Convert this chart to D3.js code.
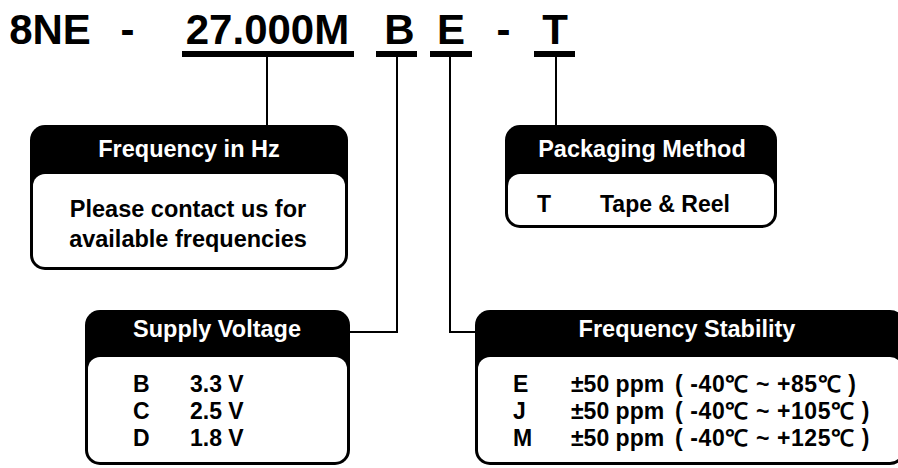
<!DOCTYPE html>
<html>
<head>
<meta charset="utf-8">
<script src="https://cdn.jsdelivr.net/npm/d3@7"></script>
<style>
  body { margin: 0; background: #fff; }
  text { font-family: "Liberation Sans", Arial, sans-serif; font-weight: bold; }
</style>
</head>
<body>
<div id="chart"></div>
<script>
// part number pieces
var codeParts = ["8NE", "-", "27.000M", "B", "E", "-", "T"];
var codeCenters = [50, 127.5, 267.5, 399.5, 451, 503.5, 555];

var freqTitle = "Frequency in Hz";
var freqNote = ["Please contact us for", "available frequencies"];

var packTitle = "Packaging Method";
var packCodes = ["T"];
var packNames = ["Tape & Reel"];

var voltTitle = "Supply Voltage";
var voltCodes = ["B", "C", "D"];
var voltValues = ["3.3 V", "2.5 V", "1.8 V"];

var stabTitle = "Frequency Stability";
var stabCodes = ["E", "J", "M"];
var stabPpm = ["\u00b150 ppm", "\u00b150 ppm", "\u00b150 ppm"];
var stabRange = ["( -40\u2103 ~ +85\u2103 )", "( -40\u2103 ~ +105\u2103 )", "( -40\u2103 ~ +125\u2103 )"];

var svgWidth = 898;
var svgHeight = 468;

var svg = d3.select("#chart")
  .append("svg")
  .attr("width", svgWidth)
  .attr("height", svgHeight);

svg.append("rect")
  .attr("width", svgWidth)
  .attr("height", svgHeight)
  .attr("fill", "#fff");

// title row
svg.selectAll(".code")
  .data(codeParts)
  .enter()
  .append("text")
  .attr("x", (d, i) => codeCenters[i])
  .attr("y", 44)
  .attr("text-anchor", "middle")
  .attr("font-size", "42px")
  .text(d => d);

// underlines under the selectable parts
var underlines = [[182, 354], [376, 417], [430, 472], [534, 575]];
svg.selectAll(".uline")
  .data(underlines)
  .enter()
  .append("rect")
  .attr("x", d => d[0])
  .attr("y", 51)
  .attr("width", d => d[1] - d[0])
  .attr("height", 6)
  .attr("fill", "#000");

// connector lines
var connectors = [
  [[267, 57], [267, 125]],
  [[397, 57], [397, 332], [350, 332]],
  [[450, 57], [450, 332], [475, 332]],
  [[556, 57], [556, 125]]
];
var line = d3.line();
svg.selectAll(".conn")
  .data(connectors)
  .enter()
  .append("path")
  .attr("d", line)
  .attr("fill", "none")
  .attr("stroke", "#000")
  .attr("stroke-width", 2);

function drawBox(b) {
  var g = svg.append("g").attr("transform", `translate(${b.x}, ${b.y})`);
  g.append("rect")
    .attr("width", b.w)
    .attr("height", b.h)
    .attr("rx", 15)
    .attr("fill", "#000");
  g.append("rect")
    .attr("x", 3)
    .attr("y", b.head)
    .attr("width", b.w - 6)
    .attr("height", b.h - b.head - 3)
    .attr("rx", 12)
    .attr("fill", "#fff");
  g.append("text")
    .attr("x", b.tx)
    .attr("y", b.ty)
    .attr("text-anchor", "middle")
    .attr("font-size", "23.5px")
    .attr("fill", "#fff")
    .text(b.title);
  return g;
}

// Frequency in Hz
var g1 = drawBox({x: 30, y: 125, w: 318, h: 145, head: 49, tx: 159, ty: 32, title: freqTitle});
var noteY = d3.scalePoint().domain(freqNote).range([92, 122]);
g1.selectAll(".note")
  .data(freqNote)
  .enter()
  .append("text")
  .attr("x", 158)
  .attr("y", d => noteY(d))
  .attr("text-anchor", "middle")
  .attr("font-size", "23.5px")
  .text(d => d);

// Packaging Method
var g2 = drawBox({x: 505, y: 125, w: 272, h: 103, head: 49, tx: 137, ty: 32, title: packTitle});
g2.selectAll(".pc")
  .data(packCodes)
  .enter()
  .append("text")
  .attr("x", 32)
  .attr("y", 87)
  .attr("font-size", "23px")
  .text(d => d);
g2.selectAll(".pn")
  .data(packNames)
  .enter()
  .append("text")
  .attr("x", 95)
  .attr("y", 87)
  .attr("font-size", "23px")
  .text(d => d);

// Supply Voltage
var g3 = drawBox({x: 85, y: 310, w: 265, h: 155, head: 47, tx: 132, ty: 27, title: voltTitle});
var voltY = d3.scalePoint().domain(voltCodes).range([82, 136]);
g3.selectAll(".vc")
  .data(voltCodes)
  .enter()
  .append("text")
  .attr("x", 48)
  .attr("y", d => voltY(d))
  .attr("font-size", "23px")
  .text(d => d);
g3.selectAll(".vv")
  .data(voltValues)
  .enter()
  .append("text")
  .attr("x", 105)
  .attr("y", (d, i) => voltY(voltCodes[i]))
  .attr("font-size", "23px")
  .text(d => d);

// Frequency Stability
var g4 = drawBox({x: 475, y: 310, w: 430, h: 155, head: 47, tx: 212, ty: 27, title: stabTitle});
var stabY = d3.scalePoint().domain(stabCodes).range([82, 136]);
g4.selectAll(".sc")
  .data(stabCodes)
  .enter()
  .append("text")
  .attr("x", 38)
  .attr("y", d => stabY(d))
  .attr("font-size", "23px")
  .text(d => d);
g4.selectAll(".sp")
  .data(stabPpm)
  .enter()
  .append("text")
  .attr("x", 96)
  .attr("y", (d, i) => stabY(stabCodes[i]))
  .attr("font-size", "23px")
  .text(d => d);
g4.selectAll(".sr")
  .data(stabRange)
  .enter()
  .append("text")
  .attr("x", 200)
  .attr("y", (d, i) => stabY(stabCodes[i]))
  .attr("font-size", "23px")
  .attr("letter-spacing", "0.6px")
  .attr("xml:space", "preserve")
  .text(d => d);
</script>
</body>
</html>
